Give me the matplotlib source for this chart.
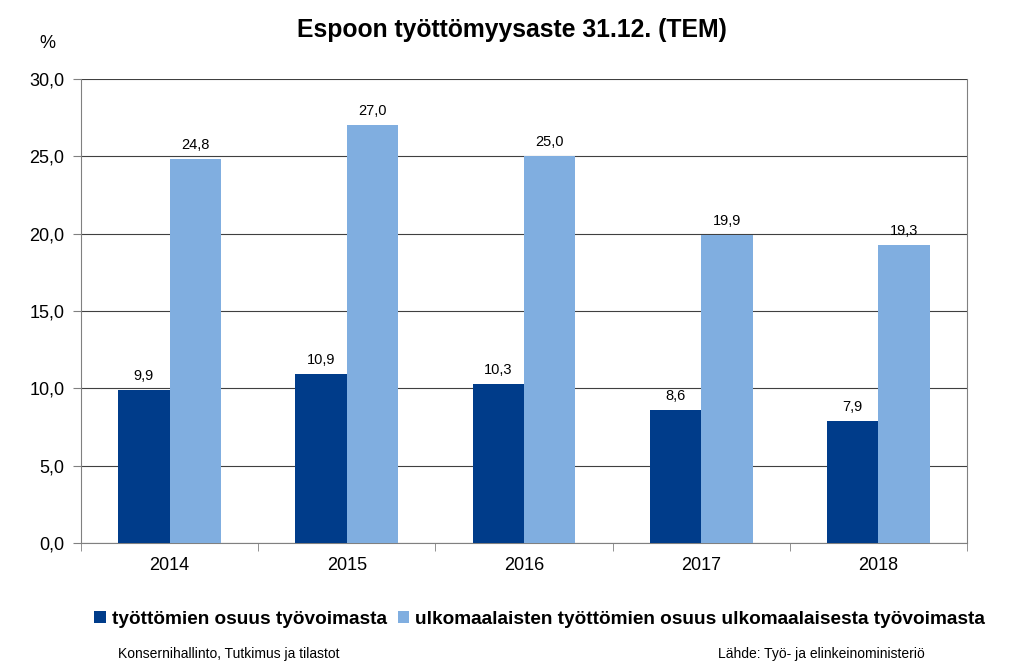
import numpy as np
import matplotlib
matplotlib.use('Agg')
import matplotlib.pyplot as plt
from matplotlib.ticker import MultipleLocator, FuncFormatter

plt.rcParams['font.family'] = ['Liberation Sans', 'DejaVu Sans']

# data
years = ['2014', '2015', '2016', '2017', '2018']
kaikki = [9.9, 10.9, 10.3, 8.6, 7.9]
ulkomaalaiset = [24.8, 27.0, 25.0, 19.9, 19.3]
labels = ['työttömien osuus työvoimasta',
          'ulkomaalaisten työttömien osuus ulkomaalaisesta työvoimasta']

dark = '#003C8A'
light = '#80AEE0'

fig = plt.figure(figsize=(10.24, 6.69), dpi=100)
ax = fig.add_axes([0.0791, 0.1883, 0.8652, 0.6936])

x = np.arange(len(years))
w = 0.29
b1 = ax.bar(x - w / 2, kaikki, w, color=dark, label=labels[0], zorder=3)
b2 = ax.bar(x + w / 2, ulkomaalaiset, w, color=light, label=labels[1], zorder=3)

fmt = lambda v: f'{v:.1f}'.replace('.', ',')
for bars, vals in [(b1, kaikki), (b2, ulkomaalaiset)]:
    for r, v in zip(bars, vals):
        ax.annotate(fmt(v), (r.get_x() + r.get_width() / 2, v),
                    xytext=(0, 5), textcoords='offset points',
                    ha='center', va='bottom', fontsize=10.5)

ax.set_xlim(-0.5, len(years) - 0.5)
ax.set_ylim(0, 30)
ax.yaxis.set_major_locator(MultipleLocator(5))
ax.yaxis.set_major_formatter(FuncFormatter(lambda v, p: fmt(v)))
ax.grid(axis='y', color='#404040', linewidth=0.8, zorder=0)

ax.set_xticks(x)
ax.set_xticklabels(years, fontsize=13)
ax.set_xticks(np.arange(-0.5, len(years)), minor=True)
ax.tick_params(axis='x', which='major', length=0, pad=10)
ax.tick_params(axis='x', which='minor', length=6, color='#808080', direction='out')
ax.tick_params(axis='y', labelsize=13, length=6, color='#808080', direction='out', pad=6)

for s in ['left', 'right']:
    ax.spines[s].set_color('#808080')
ax.spines['bottom'].set_color('#808080')
ax.spines['top'].set_visible(False)

fig.text(0.5, 0.955, 'Espoon työttömyysaste 31.12. (TEM)', ha='center', va='center',
         fontsize=17.8, fontweight='bold')
fig.text(0.046, 0.935, '%', ha='center', va='center', fontsize=13)

leg = fig.legend(handles=[b1, b2], loc='center', bbox_to_anchor=(0.527, 0.074),
                 ncol=2, frameon=False, handlelength=0.6, handleheight=0.6,
                 handletextpad=0.3, columnspacing=0.6,
                 prop={'weight': 'bold', 'size': 13.7})

foot = {'size': 10}
fig.text(0.115, 0.012, 'Konsernihallinto, Tutkimus ja tilastot', ha='left', va='bottom', **foot)
fig.text(0.701, 0.012, 'Lähde: Työ- ja elinkeinoministeriö', ha='left', va='bottom', **foot)

fig.savefig('out.png', dpi=100)
